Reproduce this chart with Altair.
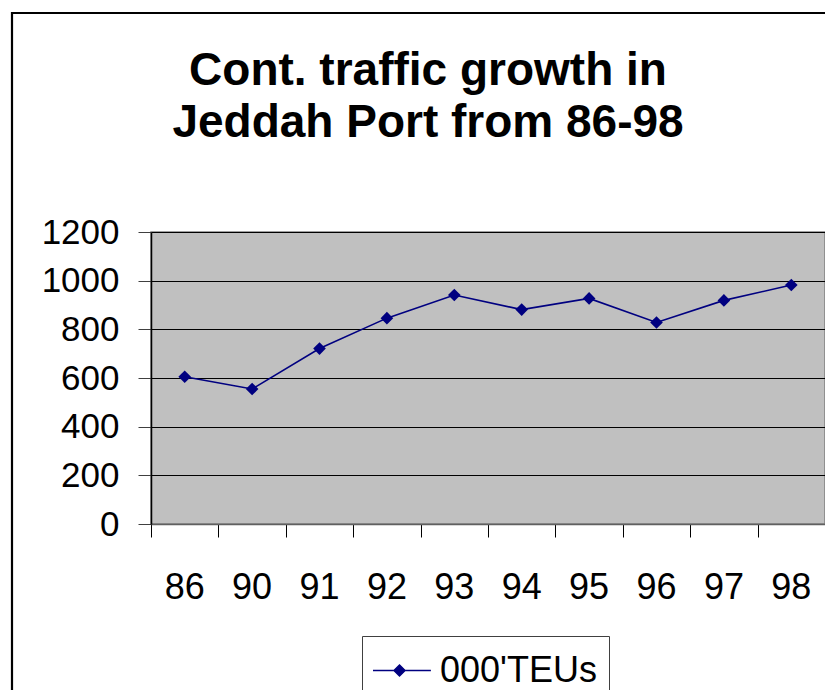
import altair as alt
import pandas as pd

# ---- data ----
years = ['86', '90', '91', '92', '93', '94', '95', '96', '97', '98']
teus = [605, 555, 721, 846, 941, 881, 927, 828, 919, 982]
series_name = "000'TEUs"
y_ticks = [0, 200, 400, 600, 800, 1000, 1200]
title_lines = ["Cont. traffic growth in", "Jeddah Port from 86-98"]

df = pd.DataFrame({
    'year': years,
    'pos': [i + 0.5 for i in range(len(years))],
    'value': teus,
    'series': [series_name] * len(years),
})

W, H = 674, 292
FONT = "Liberation Sans"
NAVY = '#000080'

x_ticks = list(range(len(years) + 1))

x_enc = alt.X(
    'pos:Q',
    scale=alt.Scale(domain=[0, len(years)], nice=False, zero=False),
    axis=alt.Axis(
        values=x_ticks, title=None, grid=False, labels=False,
        tickSize=13, tickColor='#000000', tickWidth=1,
        domainColor='#606060', domainWidth=1.5,
    ),
)

y_enc = alt.Y(
    'value:Q',
    scale=alt.Scale(domain=[0, 1200], nice=False),
    axis=alt.Axis(
        values=y_ticks, title=None, format='d', grid=True,
        gridColor='black', gridWidth=1,
        tickSize=13, tickColor='#404040', tickWidth=1,
        labelFont=FONT, labelFontSize=35, labelPadding=19, labelColor='black',
        labelFlush=False, labelOverlap=False,
        domainColor='black', domainWidth=1.5,
    ),
)

frame = alt.Chart(pd.DataFrame({'k': [0]})).mark_rect(
    fillOpacity=0, stroke='black', strokeWidth=2.2, clip=False
).encode(
    x=alt.value(-139), x2=alt.value(W + 40),
    y=alt.value(-219), y2=alt.value(H + 300),
)

line = alt.Chart(df).mark_line(strokeWidth=1.6).encode(
    x=x_enc, y=y_enc,
    color=alt.Color(
        'series:N',
        scale=alt.Scale(range=[NAVY]),
        legend=alt.Legend(
            title=None, orient='none', legendX=211, legendY=404,
            direction='vertical',
            symbolType='M-1.093,0L1.6,0M0.14,-0.256L0.396,0L0.14,0.256L-0.116,0Z',
            symbolSize=1849, symbolStrokeWidth=1.5,
            symbolFillColor=NAVY, symbolStrokeColor=NAVY, symbolOpacity=1,
            labelFont=FONT, labelFontSize=36, labelColor='black',
            labelOffset=21, labelLimit=400, padding=12,
            strokeColor='#404040', fillColor='white',
        ),
    ),
)

points = alt.Chart(df).mark_point(
    shape='diamond', filled=True, size=160, opacity=1, color=NAVY
).encode(x='pos:Q', y='value:Q')

xlabels = alt.Chart(df).mark_text(
    font=FONT, fontSize=36, color='black', align='center',
    baseline='alphabetic', clip=False
).encode(x='pos:Q', y=alt.value(H + 75), text='year:N')

chart = alt.layer(frame, line, points, xlabels).properties(
    width=W, height=H,
    title=alt.TitleParams(
        title_lines, font=FONT, fontSize=46, fontWeight='bold', color='black',
        anchor='middle', frame='group', dx=-60, offset=-181, lineHeight=52,
        baseline='bottom',
    ),
    autosize=alt.AutoSizeParams(type='none'),
    padding={'left': 143, 'top': 224, 'right': 0, 'bottom': 166},
).configure_view(
    fill='#C0C0C0', stroke='#808080', strokeWidth=1.5
)

chart.save("out.html", embed_options={"renderer": "svg", "actions": False})
